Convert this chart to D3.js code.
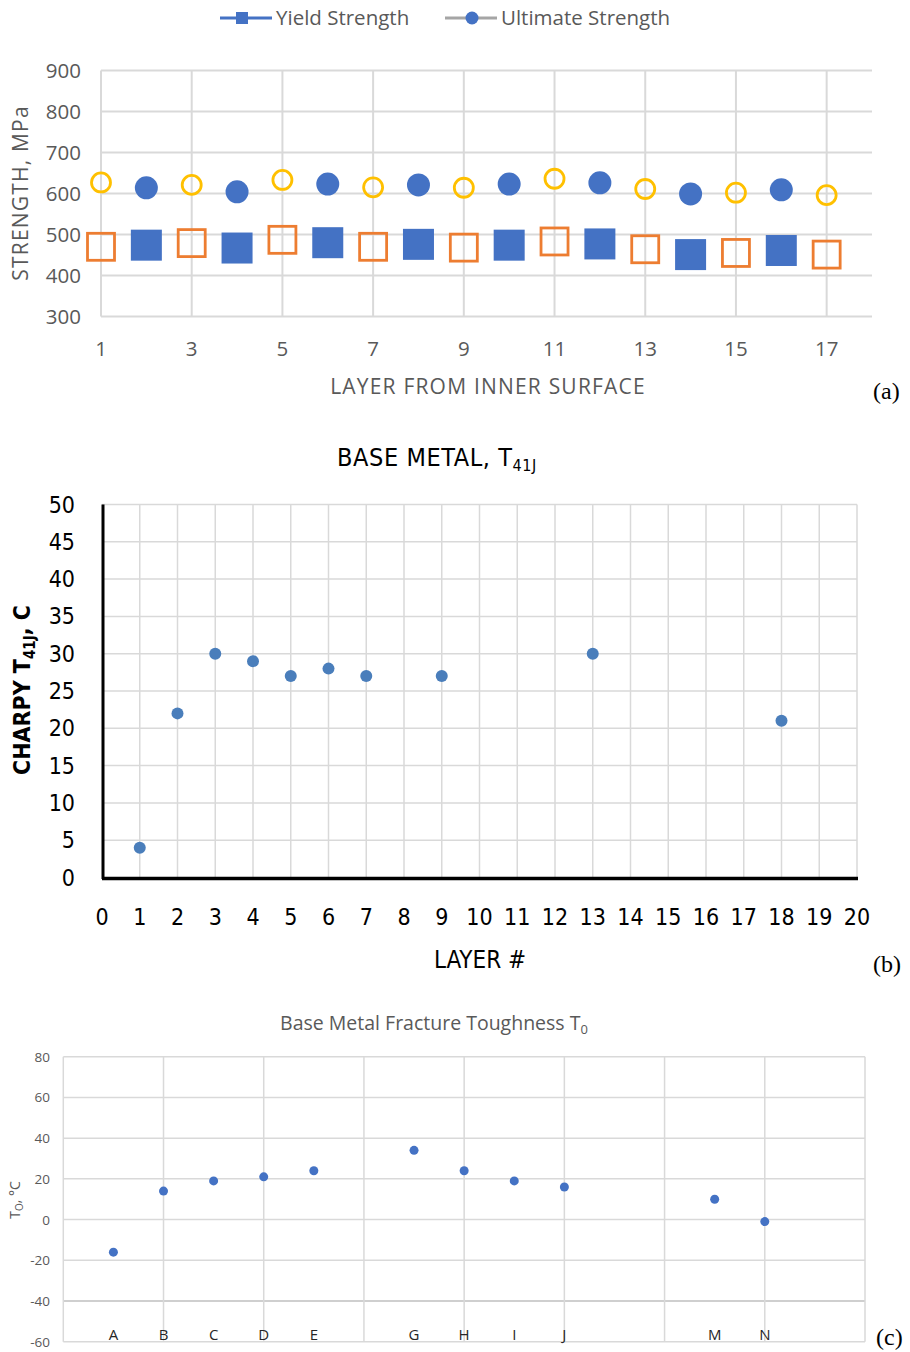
<!DOCTYPE html>
<html>
<head>
<meta charset="utf-8">
<script src="https://cdn.jsdelivr.net/npm/d3@7"></script>
<style>
  body { margin: 0; background: #fff; }
  svg { display: block; }
</style>
</head>
<body>
<div id="chart"></div>
<script>
// ---- panel (a) data
var layers = [1,2,3,4,5,6,7,8,9,10,11,12,13,14,15,16,17];
var yieldVals = [470,474,479,467,487,480,470,476,468,474,483,477,464,451,455,461,451];
var ultimateVals = [627,614,621,604,633,623,615,621,614,623,636,626,611,599,602,609,596];
var aXTicks = [1,3,5,7,9,11,13,15,17];
var aYTicks = [300,400,500,600,700,800,900];

// ---- panel (b) data
var charpyLayers = [1,2,3,4,5,6,7,9,13,18];
var charpyVals = [4,22,30,29,27,28,27,27,30,21];
var bXTicks = d3.range(0, 21);
var bYTicks = [0,5,10,15,20,25,30,35,40,45,50];

// ---- panel (c) data
var t0Labels = ["A","B","C","D","E","G","H","I","J","M","N"];
var t0Pos = [1,2,3,4,5,7,8,9,10,13,14];
var t0Vals = [-16,14,19,21,24,34,24,19,16,10,-1];
var cYTicks = [-60,-40,-20,0,20,40,60,80];
var cXGrid = [0,2,4,6,8,10,12,14,16];

var BLUE = "#4472c4", ORANGE = "#ed7d31", GOLD = "#ffc000", GRID = "#d9d9d9";

var svg = d3.select("#chart").append("svg")
    .attr("width", 910).attr("height", 1352);

// =============== (a) =================
var ga = svg.append("g");
var ax = d3.scaleLinear().domain([1, 18]).range([101, 872]);
var ay = d3.scaleLinear().domain([300, 900]).range([316.5, 70.5]);
var fa = "'Open Sans', 'Noto Sans', sans-serif";

ga.selectAll(".hg").data(aYTicks).enter().append("line")
    .attr("x1", ax(1)).attr("x2", ax(18))
    .attr("y1", function(d) { return ay(d); }).attr("y2", function(d) { return ay(d); })
    .attr("stroke", GRID).attr("stroke-width", 2);
ga.selectAll(".vg").data(aXTicks).enter().append("line")
    .attr("x1", function(d) { return ax(d); }).attr("x2", function(d) { return ax(d); })
    .attr("y1", ay(900)).attr("y2", ay(300))
    .attr("stroke", GRID).attr("stroke-width", 2);

ga.selectAll(".yl").data(aYTicks).enter().append("text")
    .attr("x", 81).attr("y", function(d) { return ay(d) + 7.5; })
    .attr("text-anchor", "end").attr("font-family", fa).attr("font-size", 20.5)
    .attr("fill", "#595959").text(function(d) { return d; });
ga.selectAll(".xl").data(aXTicks).enter().append("text")
    .attr("x", function(d) { return ax(d); }).attr("y", 356)
    .attr("text-anchor", "middle").attr("font-family", fa).attr("font-size", 20.5)
    .attr("fill", "#595959").text(function(d) { return d; });

ga.append("text").attr("transform", "translate(28,193) rotate(-90)")
    .attr("text-anchor", "middle").attr("font-family", fa).attr("font-size", 21)
    .attr("letter-spacing", 1.2).attr("fill", "#595959").text("STRENGTH, MPa");
ga.append("text").attr("x", 488).attr("y", 394)
    .attr("text-anchor", "middle").attr("font-family", fa).attr("font-size", 21)
    .attr("letter-spacing", 1.2).attr("fill", "#595959").text("LAYER FROM INNER SURFACE");

// yield squares
ga.selectAll(".ys").data(layers).enter().append("rect")
    .each(function(d, i) {
      var odd = d % 2 === 1;
      var s = odd ? 27 : 31;
      d3.select(this)
        .attr("x", ax(d) - s / 2).attr("y", ay(yieldVals[i]) - s / 2)
        .attr("width", s).attr("height", s)
        .attr("fill", odd ? "none" : BLUE)
        .attr("stroke", odd ? ORANGE : "none").attr("stroke-width", 2.8);
    });
// ultimate circles
ga.selectAll(".uc").data(layers).enter().append("circle")
    .attr("cx", function(d) { return ax(d); })
    .attr("cy", function(d, i) { return ay(ultimateVals[i]); })
    .attr("r", function(d) { return d % 2 ? 9.5 : 11.5; })
    .attr("fill", function(d) { return d % 2 ? "none" : BLUE; })
    .attr("stroke", function(d) { return d % 2 ? GOLD : "none"; })
    .attr("stroke-width", 2.8);

// legend
var lg = ga.append("g");
lg.append("line").attr("x1", 220).attr("x2", 272).attr("y1", 18).attr("y2", 18)
    .attr("stroke", BLUE).attr("stroke-width", 3);
lg.append("rect").attr("x", 236).attr("y", 12).attr("width", 12).attr("height", 12).attr("fill", BLUE);
lg.append("text").attr("x", 276).attr("y", 25).attr("font-family", fa).attr("font-size", 20.5)
    .attr("fill", "#595959").text("Yield Strength");
lg.append("line").attr("x1", 445).attr("x2", 497).attr("y1", 18).attr("y2", 18)
    .attr("stroke", "#a5a5a5").attr("stroke-width", 3);
lg.append("circle").attr("cx", 472).attr("cy", 18).attr("r", 6.5).attr("fill", BLUE);
lg.append("text").attr("x", 501).attr("y", 25).attr("font-family", fa).attr("font-size", 20.5)
    .attr("fill", "#595959").text("Ultimate Strength");

svg.append("text").attr("x", 873).attr("y", 399).attr("font-family", "'Liberation Serif', serif")
    .attr("font-size", 24).attr("fill", "#000").text("(a)");

// =============== (b) =================
var gb = svg.append("g");
var bx = d3.scaleLinear().domain([0, 20]).range([102, 857]);
var by = d3.scaleLinear().domain([0, 50]).range([877.5, 504.5]);
var fb = "'Liberation Sans Narrow', 'DejaVu Sans Condensed', sans-serif";

gb.selectAll(".hg").data(bYTicks.slice(1)).enter().append("line")
    .attr("x1", bx(0)).attr("x2", bx(20))
    .attr("y1", function(d) { return by(d); }).attr("y2", function(d) { return by(d); })
    .attr("stroke", GRID).attr("stroke-width", 1.5);
gb.selectAll(".vg").data(bXTicks.slice(1)).enter().append("line")
    .attr("x1", function(d) { return bx(d); }).attr("x2", function(d) { return bx(d); })
    .attr("y1", by(50)).attr("y2", by(0))
    .attr("stroke", GRID).attr("stroke-width", 1.5);
gb.append("line").attr("x1", bx(0) + 1).attr("x2", bx(0) + 1).attr("y1", by(50)).attr("y2", by(0) + 1.5)
    .attr("stroke", "#000").attr("stroke-width", 3);
gb.append("line").attr("x1", bx(0)).attr("x2", bx(20) + 1).attr("y1", by(0) + 1).attr("y2", by(0) + 1)
    .attr("stroke", "#000").attr("stroke-width", 3.5);

gb.selectAll(".yl").data(bYTicks).enter().append("text")
    .attr("x", 75).attr("y", function(d) { return by(d) + 8; })
    .attr("text-anchor", "end").attr("font-family", fb).attr("font-size", 23)
    .attr("fill", "#000").text(function(d) { return d; });
gb.selectAll(".xl").data(bXTicks).enter().append("text")
    .attr("x", function(d) { return bx(d); }).attr("y", 925)
    .attr("text-anchor", "middle").attr("font-family", fb).attr("font-size", 23)
    .attr("fill", "#000").text(function(d) { return d; });

gb.selectAll(".pt").data(charpyLayers).enter().append("circle")
    .attr("cx", function(d) { return bx(d); })
    .attr("cy", function(d, i) { return by(charpyVals[i]); })
    .attr("r", 6).attr("fill", "#4a7ebb");

var tb = gb.append("text").attr("x", 437).attr("y", 466).attr("text-anchor", "middle")
    .attr("font-family", fb).attr("font-size", 25).attr("letter-spacing", 0.6).attr("fill", "#000");
tb.append("tspan").text("BASE METAL, T");
tb.append("tspan").attr("font-size", 16).attr("dy", 5).text("41J");

var yb = gb.append("text").attr("transform", "translate(30,690) rotate(-90)")
    .attr("text-anchor", "middle").attr("font-family", fb).attr("font-size", 23)
    .attr("font-weight", "bold").attr("fill", "#000");
yb.append("tspan").text("CHARPY T");
yb.append("tspan").attr("font-size", 15).attr("dy", 5).text("41J");
yb.append("tspan").attr("dy", -5).text(", C");

gb.append("text").attr("x", 480).attr("y", 968).attr("text-anchor", "middle")
    .attr("font-family", fb).attr("font-size", 24).attr("fill", "#000").text("LAYER #");

svg.append("text").attr("x", 873).attr("y", 972).attr("font-family", "'Liberation Serif', serif")
    .attr("font-size", 24).attr("fill", "#000").text("(b)");

// =============== (c) =================
var gc = svg.append("g");
var cx = d3.scaleLinear().domain([0, 16]).range([63.3, 865]);
var cy = d3.scaleLinear().domain([-60, 80]).range([1341.7, 1056.7]);
var fc = "'Open Sans', 'Noto Sans', sans-serif";

gc.selectAll(".hg").data(cYTicks).enter().append("line")
    .attr("x1", cx(0)).attr("x2", cx(16))
    .attr("y1", function(d) { return cy(d); }).attr("y2", function(d) { return cy(d); })
    .attr("stroke", function(d) { return d === -40 ? "#bfbfbf" : GRID; })
    .attr("stroke-width", 1.5);
gc.selectAll(".vg").data(cXGrid).enter().append("line")
    .attr("x1", function(d) { return cx(d); }).attr("x2", function(d) { return cx(d); })
    .attr("y1", cy(80)).attr("y2", cy(-60))
    .attr("stroke", GRID).attr("stroke-width", 1.5);

gc.selectAll(".yl").data(cYTicks).enter().append("text")
    .attr("x", 50).attr("y", function(d) { return cy(d) + 5; })
    .attr("text-anchor", "end").attr("font-family", fc).attr("font-size", 13.5)
    .attr("fill", "#595959").text(function(d) { return d; });

gc.selectAll(".pt").data(t0Pos).enter().append("circle")
    .attr("cx", function(d) { return cx(d); })
    .attr("cy", function(d, i) { return cy(t0Vals[i]); })
    .attr("r", 4.5).attr("fill", BLUE);

gc.selectAll(".lab").data(t0Pos).enter().append("text")
    .attr("x", function(d) { return cx(d); }).attr("y", cy(-59))
    .attr("text-anchor", "middle").attr("font-family", fc).attr("font-size", 15)
    .attr("fill", "#262626").text(function(d, i) { return t0Labels[i]; });

var tc = gc.append("text").attr("x", 434).attr("y", 1030).attr("text-anchor", "middle")
    .attr("font-family", fc).attr("font-size", 19.5).attr("fill", "#595959");
tc.append("tspan").text("Base Metal Fracture Toughness T");
tc.append("tspan").attr("font-size", 13).attr("dy", 4).text("0");

var yc = gc.append("text").attr("transform", "translate(20,1200) rotate(-90)")
    .attr("text-anchor", "middle").attr("font-family", fc).attr("font-size", 14)
    .attr("fill", "#595959");
yc.append("tspan").text("T");
yc.append("tspan").attr("font-size", 10).attr("dy", 3).text("O");
yc.append("tspan").attr("dy", -3).text(", \u00b0C");

svg.append("text").attr("x", 876).attr("y", 1345).attr("font-family", "'Liberation Serif', serif")
    .attr("font-size", 24).attr("fill", "#000").text("(c)");
</script>
</body>
</html>
